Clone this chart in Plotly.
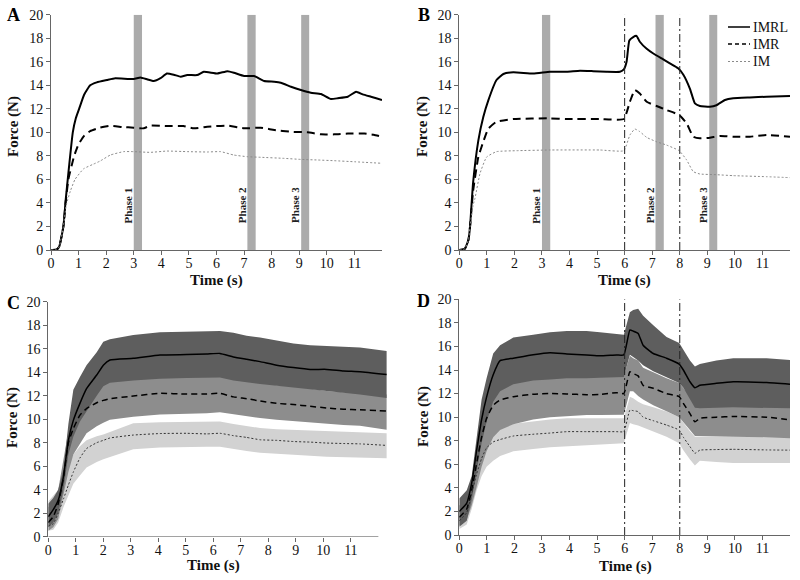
import plotly.graph_objects as go

# ---------------- Panel A (individual trial) ----------------
A_t_IMRL = [0, 0.2, 0.3, 0.45, 0.53, 0.65, 0.79, 0.9, 1.02, 1.2, 1.42, 1.66, 2.03, 2.33, 3.0, 3.24, 3.5,
            3.72, 3.97, 4.2, 4.45, 4.7, 4.94, 5.3, 5.54, 6.03, 6.4, 6.63, 7.0, 7.36, 7.73, 8.09, 8.33,
            8.7, 9.06, 9.42, 9.79, 10.15, 10.4, 10.76, 11.06, 11.3, 11.6, 11.79, 12.0]
A_IMRL = [0, 0.02, 0.3, 2.0, 4.2, 7.0, 10.0, 11.2, 12.0, 13.2, 14.0, 14.25, 14.45, 14.6, 14.53, 14.67, 14.5,
          14.36, 14.6, 15.0, 14.9, 14.73, 14.87, 14.87, 15.15, 15.0, 15.2, 15.07, 14.79, 14.79, 14.36, 14.3, 14.22,
          13.88, 13.6, 13.37, 13.26, 12.83, 12.9, 13.03, 13.46, 13.23, 13.03, 12.9, 12.75]
A_t_IMR = [0, 0.2, 0.3, 0.45, 0.53, 0.63, 0.84, 1.0, 1.2, 1.42, 1.78, 2.15, 2.6, 3.0, 3.36, 3.6, 4.2, 4.8,
           5.18, 5.66, 6.4, 7.0, 7.6, 8.1, 8.7, 9.3, 9.79, 10.27, 10.76, 11.36, 11.7, 12.0]
A_IMR = [0, 0.02, 0.3, 2.0, 4.0, 6.0, 8.0, 9.0, 9.7, 10.1, 10.4, 10.55, 10.45, 10.4, 10.34, 10.57, 10.54, 10.54,
         10.34, 10.48, 10.57, 10.34, 10.4, 10.2, 10.05, 10.0, 9.83, 9.83, 9.9, 9.9, 9.8, 9.63]
A_t_IM = [0, 0.2, 0.3, 0.45, 0.55, 0.7, 0.87, 1.18, 1.54, 1.78, 2.15, 2.63, 3.0, 3.6, 4.2, 4.94, 5.66, 6.15,
          6.63, 7.12, 7.6, 8.45, 9.06, 9.67, 10.27, 11.0, 12.0]
A_IM = [0, 0.02, 0.3, 2.0, 3.8, 5.0, 6.0, 6.9, 7.3, 7.56, 8.07, 8.36, 8.36, 8.3, 8.41, 8.36, 8.33, 8.36,
        8.07, 7.93, 7.88, 7.79, 7.7, 7.65, 7.59, 7.5, 7.37]

# ---------------- Panel B (individual trial, perturbation) ----------------
B_t_IMRL = [0, 0.2, 0.33, 0.39, 0.5, 0.69, 0.87, 1.05, 1.35, 1.6, 1.96, 2.68, 3.29, 3.9, 4.38, 4.86, 5.34,
            5.83, 5.97, 6.07, 6.17, 6.31, 6.43, 6.55, 6.8, 7.04, 7.4, 7.64, 7.94, 8.13, 8.37, 8.55, 8.73,
            9.09, 9.33, 9.64, 9.94, 10.54, 11.15, 12.0]
B_IMRL = [0, 0.1, 0.85, 2.0, 5.7, 9.3, 11.3, 12.7, 14.45, 14.96, 15.1, 15.0, 15.15, 15.15, 15.24, 15.2, 15.15,
          15.15, 15.35, 16.0, 17.8, 18.1, 18.2, 17.7, 17.1, 16.7, 16.2, 15.86, 15.44, 14.9, 13.7, 12.46, 12.24,
          12.18, 12.3, 12.75, 12.9, 12.97, 13.03, 13.1]
B_t_IMR = [0, 0.2, 0.33, 0.39, 0.5, 0.69, 0.87, 1.05, 1.35, 1.96, 3.29, 3.9, 5.1, 5.97, 6.19, 6.37, 6.55,
           6.8, 7.16, 7.52, 7.98, 8.25, 8.49, 8.73, 9.09, 9.46, 9.94, 10.54, 11.15, 12.0]
B_IMR = [0, 0.1, 0.85, 2.0, 5.0, 7.9, 9.2, 10.3, 10.9, 11.13, 11.19, 11.13, 11.13, 11.13, 12.6, 13.6, 13.3,
         12.6, 12.24, 11.9, 11.47, 10.76, 9.63, 9.49, 9.55, 9.69, 9.63, 9.63, 9.77, 9.63]
B_t_IM = [0, 0.2, 0.33, 0.39, 0.5, 0.57, 0.75, 0.99, 1.35, 2.08, 3.29, 5.1, 5.97, 6.19, 6.37, 6.55, 6.8,
          7.16, 7.52, 7.98, 8.25, 8.49, 8.73, 9.33, 9.94, 11.15, 12.0]
B_IM = [0, 0.1, 0.85, 2.0, 3.8, 4.4, 6.5, 7.9, 8.36, 8.44, 8.5, 8.5, 8.44, 9.77, 10.28, 10.06, 9.57,
        9.2, 8.92, 8.44, 7.65, 6.66, 6.46, 6.4, 6.32, 6.23, 6.15]

# ---------------- Panel C (group mean +/- SD) ----------------
C_t = [0, 0.18, 0.36, 0.55, 0.73, 0.91, 1.15, 1.39, 1.76, 2.0, 2.24, 3.09, 4.06, 5.03, 5.76, 6.24, 6.73,
       7.21, 7.7, 8.3, 8.91, 9.52, 10.12, 10.73, 11.33, 12.3]
C_IMRL = [1.7, 2.3, 3.1, 5.1, 8.2, 9.9, 11.35, 12.6, 13.76, 14.6, 15.04, 15.18, 15.46, 15.5, 15.55, 15.6, 15.3,
          15.1, 14.9, 14.6, 14.4, 14.24, 14.24, 14.1, 14.04, 13.8]
C_IMRL_hi = [2.8, 3.3, 4.0, 5.7, 9.6, 12.5, 13.6, 14.6, 15.7, 16.6, 16.8, 17.16, 17.4, 17.45, 17.45, 17.5, 17.35,
             17.1, 16.95, 16.7, 16.45, 16.3, 16.25, 16.15, 16.1, 15.8]
C_IMRL_lo = [0.8, 1.2, 2.0, 4.0, 7.0, 8.5, 9.8, 10.6, 12.0, 12.8, 13.1, 13.3, 13.45, 13.5, 13.55, 13.55, 13.3,
             13.15, 13.0, 12.8, 12.65, 12.5, 12.35, 12.25, 12.1, 11.8]
C_IMR = [1.2, 1.7, 2.8, 5.0, 8.0, 9.2, 10.35, 10.9, 11.4, 11.6, 11.75, 11.97, 12.2, 12.14, 12.15, 12.2, 11.9,
         11.75, 11.55, 11.35, 11.25, 11.1, 10.95, 10.85, 10.8, 10.7]
C_IMR_hi = [2.5, 3.0, 4.0, 6.5, 9.0, 10.8, 12.3, 12.8, 13.3, 13.5, 13.6, 13.7, 13.9, 13.85, 13.85, 13.9, 13.5,
            13.3, 13.1, 12.9, 12.8, 12.6, 12.4, 12.3, 12.2, 12.1]
C_IMR_lo = [0.5, 0.8, 1.5, 3.5, 5.5, 7.0, 7.9, 8.8, 9.4, 9.7, 9.95, 10.2, 10.4, 10.47, 10.5, 10.6, 10.4,
            10.25, 10.1, 9.95, 9.8, 9.7, 9.6, 9.5, 9.45, 9.1]
C_IM = [0.9, 1.1, 2.0, 3.2, 4.4, 5.5, 6.7, 7.5, 8.0, 8.2, 8.4, 8.65, 8.78, 8.8, 8.75, 8.8, 8.6,
        8.45, 8.25, 8.2, 8.1, 8.05, 7.97, 7.93, 7.9, 7.77]
C_IM_hi = [3.0, 3.5, 4.0, 5.2, 6.3, 7.0, 7.7, 8.2, 8.55, 8.7, 8.9, 9.65, 9.75, 9.8, 9.8, 9.8, 9.6,
           9.4, 9.25, 9.15, 9.1, 9.0, 8.95, 8.9, 8.85, 8.8]
C_IM_lo = [0.5, 0.6, 1.2, 2.5, 3.5, 4.5, 5.2, 5.9, 6.35, 6.6, 6.8, 7.45, 7.6, 7.66, 7.66, 7.66, 7.45,
           7.3, 7.15, 7.05, 6.95, 6.88, 6.8, 6.75, 6.7, 6.67]

# ---------------- Panel D (group mean +/- SD, perturbation) ----------------
D_t = [0, 0.27, 0.45, 0.63, 0.81, 0.99, 1.23, 1.48, 1.96, 2.68, 3.29, 3.9, 4.62, 5.1, 5.7, 5.97, 6.19, 6.31,
       6.49, 6.67, 7.04, 7.52, 7.98, 8.13, 8.37, 8.55, 8.73, 9.33, 9.94, 11.15, 12.0]
D_IMRL = [2.0, 2.7, 4.4, 7.2, 9.8, 11.7, 13.6, 14.8, 15.0, 15.3, 15.47, 15.36, 15.28, 15.2, 15.28, 15.28, 17.4,
          17.3, 17.1, 16.1, 15.4, 15.0, 14.5, 14.0, 13.0, 12.5, 12.7, 12.87, 13.0, 12.93, 12.8]
D_IMRL_hi = [3.1, 3.8, 5.0, 8.1, 11.5, 13.3, 15.4, 16.1, 16.75, 17.0, 17.2, 17.3, 17.3, 17.2, 17.1, 17.0, 18.9,
             19.1, 19.2, 18.6, 17.8, 16.8, 16.3, 15.7, 14.8, 14.3, 14.5, 14.8, 15.0, 15.0, 14.85]
D_IMRL_lo = [0.7, 1.2, 3.0, 5.5, 7.8, 9.6, 11.3, 12.2, 12.8, 13.1, 13.2, 13.3, 13.3, 13.35, 13.4, 13.4, 15.3,
             15.1, 14.8, 14.4, 13.9, 13.4, 12.9, 12.5, 11.5, 10.8, 10.75, 10.8, 10.83, 10.8, 10.75]
D_IMR = [1.5, 2.2, 3.8, 6.1, 8.3, 9.9, 11.0, 11.45, 11.74, 11.95, 12.0, 11.97, 11.9, 11.92, 12.08, 12.0, 13.86,
         13.7, 13.5, 12.7, 12.45, 12.0, 11.74, 11.17, 10.3, 9.6, 9.9, 10.0, 10.05, 10.0, 9.76]
D_IMR_hi = [2.5, 3.0, 4.5, 7.0, 9.5, 11.5, 12.5, 13.0, 13.2, 13.4, 13.5, 13.5, 13.5, 13.5, 13.5, 13.5, 15.2,
            15.0, 14.8, 14.2, 13.8, 13.3, 12.9, 12.5, 11.8, 11.0, 11.1, 11.3, 11.3, 11.2, 11.0]
D_IMR_lo = [0.8, 1.3, 2.5, 4.1, 5.8, 7.1, 8.3, 8.9, 9.4, 9.8, 10.0, 10.1, 10.18, 10.18, 10.18, 10.2, 12.2,
            12.2, 11.8, 11.5, 11.0, 10.5, 10.0, 9.6, 8.9, 8.4, 8.34, 8.34, 8.34, 8.3, 8.2]
D_IM = [1.2, 1.9, 3.5, 5.2, 6.5, 7.4, 7.9, 8.1, 8.4, 8.55, 8.65, 8.77, 8.77, 8.77, 8.77, 8.77, 10.6,
        10.55, 10.47, 10.0, 9.7, 9.33, 8.9, 8.3, 7.5, 6.93, 7.2, 7.25, 7.27, 7.22, 7.2]
D_IM_hi = [2.5, 3.0, 4.2, 6.0, 7.4, 8.3, 8.9, 9.2, 9.45, 9.65, 9.8, 9.9, 9.9, 9.9, 9.9, 9.9, 11.74,
           11.6, 11.3, 11.1, 10.85, 10.47, 10.0, 9.5, 8.8, 8.34, 8.34, 8.4, 8.4, 8.35, 8.34]
D_IM_lo = [0.5, 0.9, 2.2, 3.8, 5.0, 5.8, 6.3, 6.7, 7.1, 7.3, 7.45, 7.5, 7.6, 7.7, 7.75, 7.78, 9.5,
           9.4, 9.3, 9.1, 8.8, 8.34, 7.78, 7.2, 6.4, 5.9, 6.3, 6.2, 6.1, 6.1, 6.1]

# ---------------- annotations / categories ----------------
phase_labels = ["Phase 1", "Phase 2", "Phase 3"]
phase_x0 = [3.0, 7.12, 9.07]
phase_x1 = [3.3, 7.42, 9.36]
perturb_lines = [6, 8]
legend_names = ["IMRL", "IMR", "IM"]
x_ticks = list(range(0, 12))
y_ticks = list(range(0, 21, 2))

W, H = 800, 580
SERIF = "Liberation Serif"
DARK, MED, LIGHT = "#5e5e5e", "#8d8d8d", "#d2d2d2"
AXC = "#666666"

def px(x):
    return x / W

def py(y):
    return 1 - y / H

fig = go.Figure()

# panel geometry (in pixels)
panels = {
    "A": dict(x0=51, x1=382, y0=14.7, y1=250, xr=[0, 12]),
    "B": dict(x0=459.3, x1=790, y0=14.7, y1=250, xr=[0, 12]),
    "C": dict(x0=48.3, x1=388, y0=301.7, y1=536.7, xr=[0, 12.35]),
    "D": dict(x0=459.3, x1=790, y0=299.3, y1=535, xr=[0, 12]),
}
axid = {"A": "", "B": "2", "C": "3", "D": "4"}

layout = dict(width=W, height=H, margin=dict(l=0, r=0, t=0, b=0, autoexpand=False),
              plot_bgcolor="white", paper_bgcolor="white", showlegend=False,
              font=dict(family=SERIF, size=14, color="#111"))
for k, p in panels.items():
    i = axid[k]
    layout["xaxis" + i] = dict(domain=[px(p["x0"]), px(p["x1"])], range=p["xr"], anchor="y" + i,
                               showline=(k != "C"), linecolor=AXC, linewidth=1, ticks="outside",
                               ticklen=4, tickcolor=AXC, tickvals=x_ticks, showgrid=False,
                               zeroline=False, automargin=False, ticklabelstandoff=-4,
                               tickfont=dict(family=SERIF, size=14, color="#111"))
    layout["yaxis" + i] = dict(domain=[py(p["y1"]), py(p["y0"])], range=[0, 20], anchor="x" + i,
                               showline=True, linecolor=AXC, linewidth=1, ticks="outside",
                               ticklen=4, tickcolor=AXC, tickvals=y_ticks, showgrid=False,
                               zeroline=False, automargin=False,
                               tickfont=dict(family=SERIF, size=14, color="#111"))
fig.update_layout(**layout)

def xa(k):
    return "x" + axid[k]

def ya(k):
    return "y" + axid[k]

def line(k, t, v, color, width, dash):
    fig.add_trace(go.Scatter(x=t, y=v, mode="lines", xaxis=xa(k), yaxis=ya(k),
                             line=dict(color=color, width=width, dash=dash, shape="spline", smoothing=0.4),
                             hoverinfo="skip"))

def band(k, t, hi, lo, color):
    fig.add_trace(go.Scatter(x=list(t) + list(t)[::-1], y=list(hi) + list(lo)[::-1], mode="lines",
                             xaxis=xa(k), yaxis=ya(k), fill="toself", fillcolor=color,
                             line=dict(width=0, color=color), hoverinfo="skip"))

shapes = []
annotations = []

# phase bars
for k in ["A", "B"]:
    for x0, x1 in zip(phase_x0, phase_x1):
        shapes.append(dict(type="rect", xref=xa(k), yref=ya(k), x0=x0, x1=x1, y0=0, y1=20,
                           fillcolor="#ababab", line=dict(width=0), layer="below"))
    for lab, x0 in zip(phase_labels, phase_x0):
        annotations.append(dict(xref=xa(k), yref=ya(k), x=x0 - 0.2, y=3.8, text="<b>" + lab + "</b>",
                                showarrow=False, textangle=-90, font=dict(family=SERIF, size=11, color="#222")))

# perturbation lines
for k in ["B", "D"]:
    for xv in perturb_lines:
        shapes.append(dict(type="line", xref=xa(k), yref=ya(k), x0=xv, x1=xv, y0=0, y1=20,
                           line=dict(color="#222", width=1, dash="8px,3px,2px,3px")))

# C x-axis line shorter than data range
shapes.append(dict(type="line", xref="x3", yref="y3", x0=0, x1=12, y0=0, y1=0,
                   line=dict(color=AXC, width=1)))

# Panel A, B lines
line("A", A_t_IMRL, A_IMRL, "#000", 2, "solid")
line("A", A_t_IMR, A_IMR, "#000", 2, "8px,5px")
line("A", A_t_IM, A_IM, "#8a8a8a", 1, "2px,2px")
line("B", B_t_IMRL, B_IMRL, "#000", 2, "solid")
line("B", B_t_IMR, B_IMR, "#000", 2, "8px,5px")
line("B", B_t_IM, B_IM, "#8a8a8a", 1, "2px,2px")

# Panel C, D bands then means
band("C", C_t, C_IM_hi, C_IM_lo, LIGHT)
band("C", C_t, C_IMR_hi, C_IMR_lo, MED)
band("C", C_t, C_IMRL_hi, C_IMRL_lo, DARK)
line("C", C_t, C_IMRL, "#000", 1.5, "solid")
line("C", C_t, C_IMR, "#000", 1.5, "6px,4px")
line("C", C_t, C_IM, "#333", 1, "2px,2px")

band("D", D_t, D_IM_hi, D_IM_lo, LIGHT)
band("D", D_t, D_IMR_hi, D_IMR_lo, MED)
band("D", D_t, D_IMRL_hi, D_IMRL_lo, DARK)
line("D", D_t, D_IMRL, "#000", 1.5, "solid")
line("D", D_t, D_IMR, "#000", 1.5, "6px,4px")
line("D", D_t, D_IM, "#333", 1, "2px,2px")

# custom legend in panel B
leg_y = [27, 44, 61.5]
leg_style = [("#000", 1.5, "solid"), ("#000", 1.5, "4px,3px"), ("#8a8a8a", 1, "2px,2px")]
for name, yy, (c, w, d) in zip(legend_names, leg_y, leg_style):
    shapes.append(dict(type="line", xref="paper", yref="paper", x0=px(728), x1=px(750), y0=py(yy), y1=py(yy),
                       line=dict(color=c, width=w, dash=d)))
    annotations.append(dict(xref="paper", yref="paper", x=px(751), y=py(yy), xanchor="left", yanchor="middle",
                            text=name, showarrow=False, font=dict(family=SERIF, size=14, color="#111")))

# panel letters and axis titles
letters = {"A": (13, 15), "B": (424, 15), "C": (13, 302.5), "D": (423, 301)}
time_pos = {"A": (216, 280), "B": (624, 280), "C": (213, 565), "D": (625, 566)}
force_pos = {"A": (13, 127), "B": (422, 127), "C": (12, 418), "D": (423, 417)}
for k in panels:
    lx, ly = letters[k]
    annotations.append(dict(xref="paper", yref="paper", x=px(lx), y=py(ly), text="<b>" + k + "</b>",
                            showarrow=False, xanchor="center", yanchor="middle",
                            font=dict(family=SERIF, size=18, color="#000")))
    tx, ty = time_pos[k]
    annotations.append(dict(xref="paper", yref="paper", x=px(tx), y=py(ty), text="<b>Time (s)</b>",
                            showarrow=False, xanchor="center", yanchor="middle",
                            font=dict(family=SERIF, size=15, color="#111")))
    fx, fy = force_pos[k]
    annotations.append(dict(xref="paper", yref="paper", x=px(fx), y=py(fy), text="<b>Force (N)</b>",
                            showarrow=False, textangle=-90, xanchor="center", yanchor="middle",
                            font=dict(family=SERIF, size=15, color="#111")))

fig.update_layout(shapes=shapes, annotations=annotations)
fig.write_html("out.html", config={"displayModeBar": False},
               post_script="document.body.style.margin='0';document.body.style.padding='0';")
